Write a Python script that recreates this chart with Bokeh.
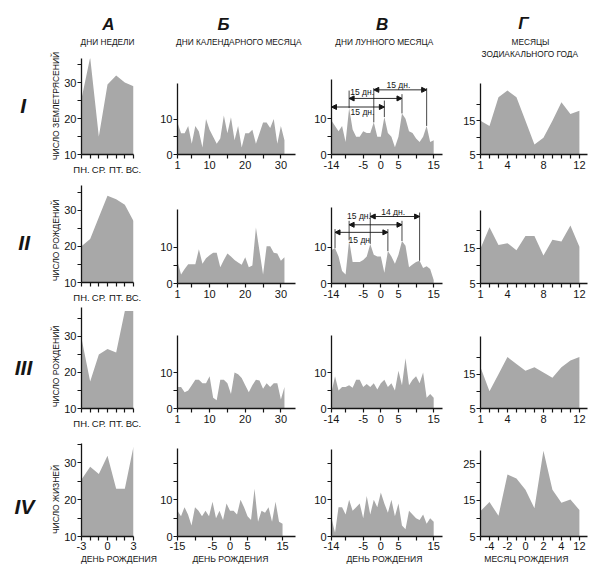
import math
from bokeh.plotting import figure
from bokeh.models import ColumnDataSource, FixedTicker, LabelSet, Arrow, NormalHead, Range1d
from bokeh.layouts import column, row
from bokeh.embed import file_html
from bokeh.resources import INLINE
from bokeh.core.properties import value

FONT = "Liberation Sans"
FILL = "#a8a8a8"
INK = "#151515"

# ---------------- data ----------------
weekdays = [1, 2, 3, 4, 5, 6, 7]
weekday_labels = ["ПН.", "", "СР.", "", "ПТ.", "", "ВС."]
birth_day_offsets = [-3, -2, -1, 0, 1, 2, 3]
birth_day_offset_labels = ["-3", "", "", "0", "", "", "3"]

quakes_weekday = [25.5, 37, 15, 29.5, 32, 30, 29]
births2_weekday = [20, 22, 28, 34, 33, 31.5, 27]
births3_weekday = [29.5, 17.5, 25, 26.5, 25.5, 37, 37]
lives_weekday_offset = [25.5, 29, 27, 32, 23, 23, 34.5]

cal_days = list(range(1, 32))
cal_offsets = list(range(-15, 16))
cal_offset_ticks = [-15, -10, -5, 0, 5, 10, 15]
cal_offset_tick_labels = ["-15", "", "-5", "0", "5", "", "15"]
quakes_calday = [9, 6, 6, 8, 3, 8, 6.5, 2, 10, 7, 5, 3, 4.5, 11, 6, 10.5, 4, 8, 2, 6, 6, 7, 3, 6, 9, 9, 7.5, 10, 3, 8, 4]
births2_calday = [6, 2.5, 4, 5.3, 5.3, 5.3, 9.5, 5.5, 7, 7.8, 8.5, 8.5, 4.5, 6.5, 8.3, 7.5, 6.5, 5.8, 5.2, 7.3, 4.5, 5, 15.5, 9, 2.5, 10.3, 10.3, 8.5, 8.3, 6.3, 7.3]
births3_calday = [6, 6, 4.5, 5, 6.5, 8, 8, 7, 7, 9, 3, 2.3, 8, 8, 7, 4, 10, 9.5, 8.5, 6.5, 4.5, 6.5, 8, 7.8, 5.5, 7, 6, 7, 7, 2.5, 6]
lives_calday_offset = [7, 5.5, 8, 6, 3, 8, 7, 5.5, 7, 5.5, 9.5, 5, 7, 4.5, 9, 7, 7, 6, 10, 8, 5.5, 4.5, 13, 4, 7, 6.5, 8, 4, 9.5, 4, 3.5]

lunar_days = list(range(-14, 16))
lunar_ticks = [-14, -10, -5, 0, 5, 10, 15]
lunar_tick_labels = ["-14", "", "-5", "0", "5", "", "15"]
quakes_lunar = [9.5, 8, 6.5, 8, 3.5, 13, 7, 5, 5, 6.5, 6, 6, 9, 5, 5, 10.5, 6, 5, 2, 5, 11.5, 10, 6.5, 6, 4.5, 3.5, 5, 8, 3.5, 4]
births2_lunar = [9.3, 9.8, 7.5, 3.5, 2.5, 12, 6, 6, 6, 6.5, 7.5, 11, 8, 7.5, 7.5, 3, 9, 7.5, 5.5, 8, 11.8, 10.5, 4.5, 5.3, 6, 6.3, 4.3, 4.8, 4, 1]
births3_lunar = [4.5, 9, 5, 6, 6, 6.5, 5.8, 8, 8, 6, 6.8, 6, 7, 5.3, 7, 8, 6, 7, 5, 10.5, 6.5, 14, 6.5, 8, 9, 7, 10, 3, 4, 3]
lives_lunar = [5, 1, 8, 8, 6, 10, 7, 8, 9, 5, 11, 6, 10, 8, 12, 9, 6.5, 10, 5.5, 9, 3, 2, 7, 6, 5, 4.5, 6, 3.5, 5, 4]

zodiac_months = list(range(1, 13))
quakes_zodiac = [15, 13.5, 22, 24, 22, 15, 8, 10, 15, 20.5, 17, 18]
births2_zodiac = [15, 21, 16, 16.5, 14.5, 18.5, 18.5, 13, 17.5, 17, 21.5, 15.5]
births3_zodiac = [17, 10, 15, 20, 18, 16, 17, 15.5, 14, 17, 19, 20]
lives_zodiac_offset = [12, 14.5, 10.7, 22.1, 21, 17.9, 12.8, 28.6, 17.9, 14.3, 15.2, 12.3]
zodiac_offset_labels = {2: "-4", 4: "-2", 6: "0", 8: "2", 10: "4", 12: "12"}

# lunar-month period annotations (rows I and II)
span1_start = [-14, -9, -2]
span1_end = [1, 6, 13]
span1_level = [13.3, 15.7, 18.1]
span1_text = ["15 дн.", "15 дн.", "15 дн."]
span1_text_x = [-5.2, -5.3, 5.0]
span1_text_y = [11.8, 17.6, 19.6]
mark1_x = [-9, -2, 1, 6, 13]
mark1_top = [17.9, 18.6, 15.1, 16.9, 18.6]

span2_start = [-13, -9, -3]
span2_end = [2, 6, 11]
span2_level = [14.2, 16.3, 18.6]
span2_text = ["15 дн", "15 дн.", "14 дн."]
span2_text_x = [-6.1, -6.2, 3.5]
span2_text_y = [12.0, 18.7, 19.9]
mark2_x = [-13, -9, -3, 2, 6, 11]
mark2_top = [15.1, 17.4, 19.7, 15.1, 17.4, 19.7]

roman = ["I", "II", "III", "IV"]
ylabels = ["ЧИСЛО ЗЕМЛЕТРЯСЕНИЙ", "ЧИСЛО РОЖДЕНИЙ", "ЧИСЛО РОЖДЕНИЙ", "ЧИСЛО ЖИЗНЕЙ"]
col_letters = ["А", "Б", "В", "Г"]
col_titles = ["ДНИ НЕДЕЛИ", "ДНИ КАЛЕНДАРНОГО МЕСЯЦА", "ДНИ ЛУННОГО МЕСЯЦА", "МЕСЯЦЫ", "ЗОДИАКАЛЬНОГО ГОДА"]
bottom_labels = ["ДЕНЬ РОЖДЕНИЯ", "ДЕНЬ РОЖДЕНИЯ", "ДЕНЬ РОЖДЕНИЯ", "МЕСЯЦ РОЖДЕНИЯ"]

# ---------------- layout geometry (page pixels; the page has no body margin) ----------------
STRIP_W = 61
HEAD_BOTTOM = 58
ROW_BLOCK_BOTTOM = [178, 305, 432, 553]
FRAME_BOTTOM = [154, 283, 408, 536]
FOOT_BOTTOM = 576
RIGHT_EDGE = 592
colspec = [
    dict(width=96, left=18, right=24, tops=[58, 185, 307, 443]),
    dict(width=154, left=19, right=16, tops=[83, 209, 335, 448]),
    dict(width=134, left=18, right=3, tops=[79, 207, 335, 449]),
    dict(width=147, left=35, right=5, tops=[83, 210, 336, 450]),
]
y_ranges = [
    [(10, 36.7), (10, 36.8), (10, 38), (10, 35.3)],
    [(0, 20), (0, 20.5), (0, 20.3), (0, 24)],
    [(0, 21), (0, 21.1), (0, 20.3), (0, 23.7)],
    [(5, 26.1), (5, 25.8), (5, 26), (5, 28.7)],
]
roman_pos = [(22.7, 105), (23.7, 242), (23, 367), (24, 506)]
ylabel_pos = [(55.5, 105.5), (55.5, 240), (55.5, 366), (55.5, 499)]
letter_pos = [(108, 24), (223, 24), (381.7, 24), (523, 23)]
title_pos = [(107, 41.7), (238.3, 41.7), (383.8, 41.7), (530, 41.7), (529.3, 53.3)]
bottom_pos = [(118.5, 558), (230, 558), (384, 558), (525.8, 558)]


def no_align(p):
    try:
        p.frame_align = False
    except Exception:
        pass


def text_fig(x0, x1, y0, y1, left=0, right=0):
    """Figure whose data coordinates equal page pixels (y downwards)."""
    p = figure(width=x1 - x0, height=y1 - y0,
               x_range=Range1d(x0 + left, x1 - right), y_range=Range1d(y1, y0),
               min_border_left=left, min_border_right=right, min_border_top=0, min_border_bottom=0,
               toolbar_location=None, output_backend="svg", title=None,
               x_axis_location=None, y_axis_location=None)
    p.outline_line_color = None
    p.grid.visible = False
    no_align(p)
    return p


def put_text(p, xs, ys, texts, size, style="normal", angle=0.0):
    p.text(x=xs, y=ys, text=texts, text_font=value(FONT), text_font_size=value(size),
           text_font_style=style, text_color=INK, text_align="center", text_baseline="middle",
           angle=angle)


def style_axis(ax, font_size="11px"):
    ax.axis_line_color = INK
    ax.axis_line_width = 1.3
    ax.major_tick_line_color = INK
    ax.major_tick_line_width = 1.2
    ax.major_tick_in = 0
    ax.major_tick_out = 4
    ax.minor_tick_line_color = None
    ax.major_label_text_font = FONT
    ax.major_label_text_font_size = font_size
    ax.major_label_text_color = INK
    ax.major_label_standoff = 2


def set_ticks(ax, ticks, labels):
    ax.ticker = FixedTicker(ticks=ticks)
    ax.major_label_overrides = dict(zip(ticks, labels))


def plot_fig(c, r, xr):
    cs = colspec[c]
    block_top = HEAD_BOTTOM if r == 0 else ROW_BLOCK_BOTTOM[r - 1]
    block_bottom = ROW_BLOCK_BOTTOM[r]
    p = figure(width=cs["width"], height=block_bottom - block_top,
               x_range=Range1d(*xr), y_range=Range1d(*y_ranges[c][r]),
               min_border_left=cs["left"], min_border_right=cs["right"],
               min_border_top=cs["tops"][r] - block_top,
               min_border_bottom=block_bottom - FRAME_BOTTOM[r],
               toolbar_location=None, output_backend="svg", title=None)
    p.outline_line_color = None
    p.grid.visible = False
    no_align(p)
    style_axis(p.xaxis[0])
    style_axis(p.yaxis[0])
    p.yaxis[0].major_label_standoff = 1
    if r == 3:
        p.xaxis[0].major_label_standoff = 1
    return p


def add_area(p, xs, ys, base):
    p.varea(x=xs, y1=base, y2=ys, fill_color=FILL)


def period_marks(p, xs_series, ys_series, s_start, s_end, s_level, t_text, t_x, t_y, m_x, m_top):
    lookup = dict(zip(xs_series, ys_series))
    p.segment(x0=m_x, y0=[lookup[x] for x in m_x], x1=m_x, y1=m_top, line_color="#333333", line_width=0.9)
    head = dict(size=5, fill_color=INK, line_color=INK)
    for a, b, lv in zip(s_start, s_end, s_level):
        p.add_layout(Arrow(x_start=a, y_start=lv, x_end=b, y_end=lv, line_color=INK, line_width=0.9,
                           start=NormalHead(**head), end=NormalHead(**head)))
    src = ColumnDataSource(dict(x=t_x, y=t_y, t=t_text))
    p.add_layout(LabelSet(x="x", y="y", text="t", source=src, text_font=value(FONT),
                          text_font_size="8.5px", text_color=INK, text_align="center", text_baseline="middle"))


rows_series = [
    (quakes_weekday, quakes_calday, quakes_lunar, quakes_zodiac),
    (births2_weekday, births2_calday, births2_lunar, births2_zodiac),
    (births3_weekday, births3_calday, births3_lunar, births3_zodiac),
    (lives_weekday_offset, lives_calday_offset, lives_lunar, lives_zodiac_offset),
]

plot_rows = []
for r in range(4):
    figs = []
    for c in range(4):
        s = rows_series[r][c]
        if c == 0:
            if r < 3:
                p = plot_fig(c, r, (1, 7))
                add_area(p, weekdays, s, y_ranges[c][r][0])
                set_ticks(p.xaxis[0], weekdays, weekday_labels)
                p.xaxis[0].major_label_text_font_size = "9.5px"
                p.xaxis[0].major_label_standoff = 5
            else:
                p = plot_fig(c, r, (-3, 3))
                add_area(p, birth_day_offsets, s, y_ranges[c][r][0])
                set_ticks(p.xaxis[0], birth_day_offsets, birth_day_offset_labels)
            set_ticks(p.yaxis[0], [10, 15, 20, 25, 30, 35], ["10", "", "20", "", "30", ""])
        elif c == 1:
            if r < 3:
                p = plot_fig(c, r, (1, 34.1))
                add_area(p, cal_days, s, 0)
                set_ticks(p.xaxis[0], [1, 5, 10, 15, 20, 25, 30], ["1", "", "10", "", "20", "", "30"])
                set_ticks(p.yaxis[0], [0, 5, 10], ["0", "", "10"])
            else:
                p = plot_fig(c, r, (-15, 18.7))
                add_area(p, cal_offsets, s, 0)
                set_ticks(p.xaxis[0], cal_offset_ticks, cal_offset_tick_labels)
                set_ticks(p.yaxis[0], [0, 5, 10, 15, 20], ["0", "", "10", "", ""])
        elif c == 2:
            p = plot_fig(c, r, (-14, 17.5))
            add_area(p, lunar_days, s, 0)
            set_ticks(p.xaxis[0], lunar_ticks, lunar_tick_labels)
            if r < 3:
                set_ticks(p.yaxis[0], [0, 5, 10], ["0", "", "10"])
            else:
                set_ticks(p.yaxis[0], [0, 5, 10, 15, 20], ["0", "", "10", "", ""])
            if r == 0:
                period_marks(p, lunar_days, s, span1_start, span1_end, span1_level,
                             span1_text, span1_text_x, span1_text_y, mark1_x, mark1_top)
            if r == 1:
                period_marks(p, lunar_days, s, span2_start, span2_end, span2_level,
                             span2_text, span2_text_x, span2_text_y, mark2_x, mark2_top)
        else:
            p = plot_fig(c, r, (1, 12.9))
            add_area(p, zodiac_months, s, 5)
            if r < 3:
                set_ticks(p.xaxis[0], zodiac_months,
                          [str(m) if m in (1, 4, 8, 12) else "" for m in zodiac_months])
                set_ticks(p.yaxis[0], [5, 10, 15, 20], ["5", "", "15", ""])
            else:
                set_ticks(p.xaxis[0], zodiac_months, [zodiac_offset_labels.get(m, "") for m in zodiac_months])
                set_ticks(p.yaxis[0], [5, 10, 15, 20, 25], ["5", "", "15", "", "25"])
        figs.append(p)
    plot_rows.append(row(*figs, spacing=0))

# header: column letters and titles (page-pixel coordinates)
head = text_fig(STRIP_W, RIGHT_EDGE, 0, HEAD_BOTTOM, left=colspec[0]["left"], right=colspec[3]["right"])
put_text(head, [x for x, y in letter_pos], [y for x, y in letter_pos], col_letters, "17px", "bold italic")
put_text(head, [x for x, y in title_pos], [y for x, y in title_pos], col_titles, "8.3px")

# footer: captions under the last row
foot = text_fig(STRIP_W, RIGHT_EDGE, ROW_BLOCK_BOTTOM[3], FOOT_BOTTOM, left=colspec[0]["left"], right=colspec[3]["right"])
put_text(foot, [x for x, y in bottom_pos], [y for x, y in bottom_pos], bottom_labels, "8.6px")

# left strip: row numerals and vertical value captions
strip = text_fig(0, STRIP_W, 0, FOOT_BOTTOM)
put_text(strip, [x for x, y in roman_pos], [y for x, y in roman_pos], roman, "21px", "bold italic")
put_text(strip, [x for x, y in ylabel_pos], [y for x, y in ylabel_pos], ylabels, "8.5px", angle=math.pi / 2)

layout = row(strip, column(head, *plot_rows, foot, spacing=0), spacing=0)
open("out.html", "w").write(file_html(layout, INLINE))
